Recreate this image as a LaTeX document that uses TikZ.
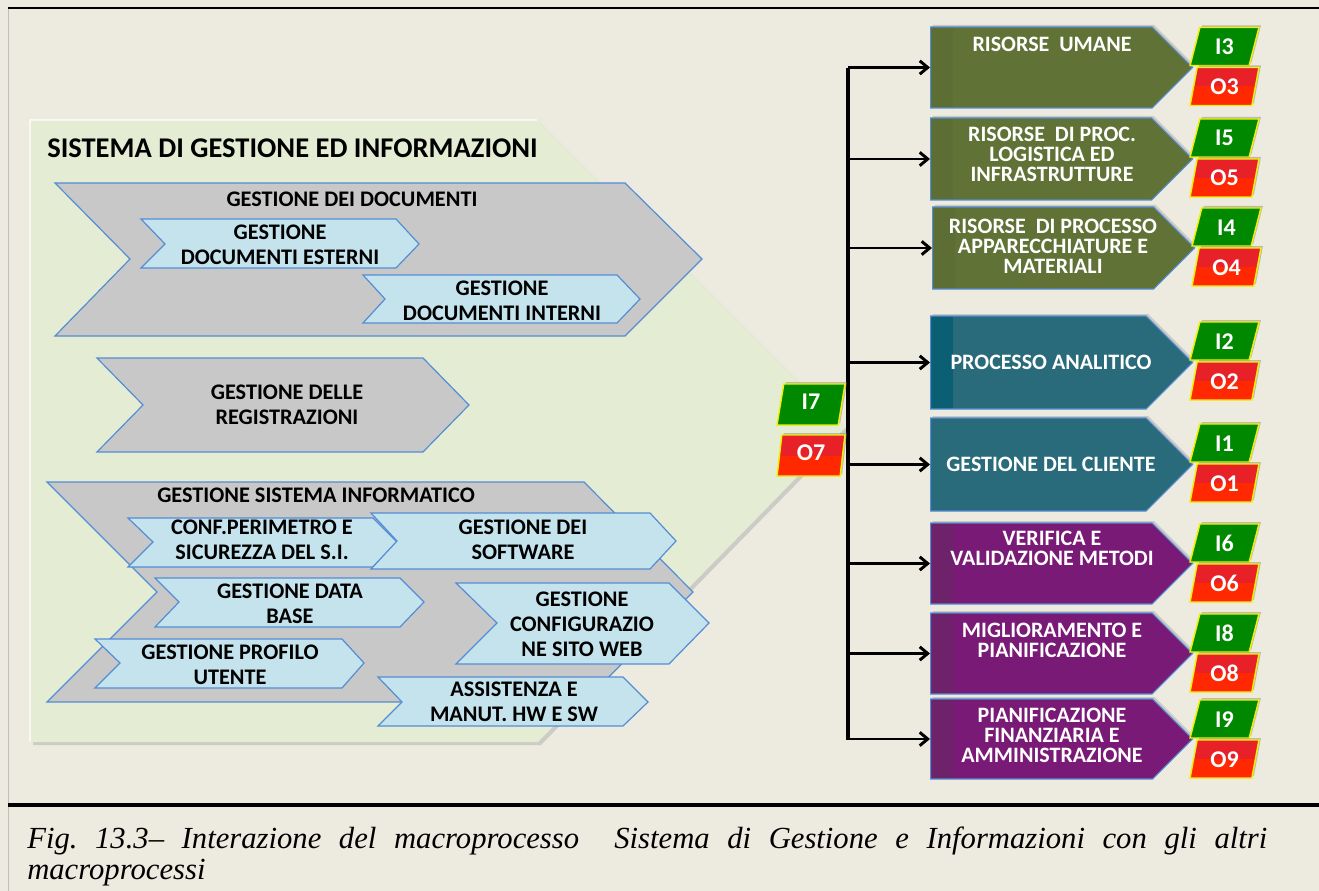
\documentclass[tikz,border=0pt]{standalone}
\usepackage{fontspec}
\setmainfont{Carlito}
\newfontfamily\capfont{Liberation Serif}
\usetikzlibrary{arrows.meta,shapes.symbols,shapes.geometric,shadows}

\definecolor{pagebg}{RGB}{237,234,224}
\definecolor{sgifill}{RGB}{228,237,211}
\definecolor{chevgray}{RGB}{200,200,200}
\definecolor{chevblue}{RGB}{197,227,237}
\definecolor{edgeblue}{RGB}{84,141,212}
\definecolor{risolive}{RGB}{96,114,54}
\definecolor{olivestrip}{RGB}{93,110,52}
\definecolor{procteal}{RGB}{41,107,122}
\definecolor{tealstrip}{RGB}{10,96,114}
\definecolor{verpurple}{RGB}{122,26,119}
\definecolor{purplestrip}{RGB}{110,34,106}
\definecolor{taggreen}{RGB}{0,136,0}
\definecolor{tagred}{RGB}{255,40,0}
\definecolor{tagredtop}{RGB}{232,32,40}
\definecolor{tagedge}{RGB}{240,240,0}

\begin{document}
\begin{tikzpicture}[x=0.75pt,y=0.75pt,yscale=-1,xscale=1,
  chevgrey/.style={draw=edgeblue,fill=chevgray,line width=0.9pt},
  chevlight/.style={draw=edgeblue,fill=chevblue,line width=0.9pt},
  chevtext/.style={font=\bfseries\fontsize{16.7}{18.75}\selectfont,align=center,inner sep=0pt},
  rbox/.style={shape=signal,signal to=east,signal pointer angle=90,draw=edgeblue,line width=0.8pt,
    fill=#1,minimum width=196.5pt,minimum height=60.75pt,inner sep=0pt,anchor=west,
    drop shadow={opacity=.3,shadow xshift=1.5pt,shadow yshift=1.5pt}},
  strip/.style={path picture={\fill[#1] (path picture bounding box.south west) rectangle ([xshift=16.5pt]path picture bounding box.north west);}},
  rtext/.style={font=\bfseries\fontsize{16.5}{15}\selectfont,text=white,align=center,inner sep=0pt},
  tagbase/.style={trapezium,trapezium left angle=77,trapezium right angle=103,trapezium stretches=true,
    minimum width=51.75pt,minimum height=28.5pt,inner sep=0pt,draw=tagedge,line width=1.1pt,
    text=white,font=\bfseries\fontsize{18}{18}\selectfont,text height=1.2em,text depth=0pt,
    drop shadow={opacity=.45,shadow xshift=1.5pt,shadow yshift=1.5pt}},
  itag/.style={tagbase,fill=taggreen},
  otag/.style={tagbase,fill=tagred,path picture={\fill[tagredtop] (path picture bounding box.north west) rectangle (path picture bounding box.east);}},
  bus/.style={line width=2.6pt},
  feed/.style={line width=2.2pt,-{Straight Barb[length=6pt,width=10pt]}}]

\useasboundingbox (0,0) rectangle (1319,891);
\fill[pagebg] (0,0) rectangle (1319,891);

%Page rules
\draw[black!25,line width=0.75pt] (8,8) -- (8,891);
\draw[line width=2.2pt] (8,8) -- (1319,8);
\draw[line width=2.6pt] (8,805) -- (1319,805);

%Shape: Pentagon [sistema] shadow + body
\fill[black!35,opacity=.45] (33,123) -- (540,123) -- (848,431) -- (541,745) -- (33,745) -- cycle;
\fill[sgifill] (30,120) -- (537,120) -- (845,428) -- (538,742) -- (30,742) -- cycle;
\draw[white,line width=1.2pt,opacity=.7] (30,742) -- (30,120) -- (537,120);

% Text Node
\draw (47,148) node [anchor=west,inner sep=0pt,font=\bfseries\fontsize{21.4}{25}\selectfont] (sgi) {SISTEMA DI GESTIONE ED INFORMAZIONI};

%Shape: Chevron [documenti]
\draw[chevgrey] (55,183) -- (625,183) -- (702,259) -- (625,336) -- (55,336) -- (130,259) -- cycle;
\draw[chevlight] (141,219) -- (396,219) -- (419,244) -- (396,268) -- (141,268) -- (165,244) -- cycle;
\draw[chevlight] (363,275) -- (617,275) -- (640,299) -- (617,323) -- (363,323) -- (385,299) -- cycle;
% Text Node
\draw (352,199) node [chevtext] (gdd) {GESTIONE DEI DOCUMENTI};
\draw (280,244.5) node [chevtext] (gde) {GESTIONE\\DOCUMENTI ESTERNI};
\draw (502,300.5) node [chevtext] (gdi) {GESTIONE\\DOCUMENTI INTERNI};

%Shape: Chevron [registrazioni]
\draw[chevgrey] (97,358) -- (423,358) -- (469,405) -- (423,452) -- (97,452) -- (143,405) -- cycle;
% Text Node
\draw (287,405) node [chevtext] (gdr) {GESTIONE DELLE\\REGISTRAZIONI};

%Shape: Chevron [sistema informatico]
\draw[chevgrey] (47,482) -- (584,482) -- (693,592) -- (584,702) -- (47,702) -- (157,592) -- cycle;
\draw[chevlight] (128,518) -- (373,518) -- (397,542) -- (373,567) -- (128,567) -- (153,542) -- cycle;
\draw[chevlight] (371,513) -- (650,513) -- (676,541) -- (650,569) -- (371,569) -- (397,541) -- cycle;
\draw[chevlight] (155,578) -- (400,578) -- (424,602) -- (400,627) -- (155,627) -- (179,602) -- cycle;
\draw[chevlight] (456,583) -- (669,583) -- (709,623) -- (669,664) -- (456,664) -- (497,623) -- cycle;
\draw[chevlight] (95,639) -- (342,639) -- (364,663) -- (342,688) -- (95,688) -- (120,663) -- cycle;
\draw[chevlight] (378,677) -- (623,677) -- (648,702) -- (623,726) -- (378,726) -- (402,702) -- cycle;
% Text Node
\draw (316,495) node [chevtext] (gsi) {GESTIONE SISTEMA INFORMATICO};
\draw (262,540) node [chevtext] (conf) {CONF.PERIMETRO E\\SICUREZZA DEL S.I.};
\draw (523,540) node [chevtext] (soft) {GESTIONE DEI\\SOFTWARE};
\draw (290,603.5) node [chevtext] (db) {GESTIONE DATA\\BASE};
\draw (582,624) node [chevtext] (web) {GESTIONE\\CONFIGURAZIO\\NE SITO WEB};
\draw (230,664.5) node [chevtext] (prof) {GESTIONE PROFILO\\UTENTE};
\draw (514,702) node [chevtext] (ass) {ASSISTENZA E\\MANUT. HW E SW};

%Macroprocessi
\node [rbox=risolive,strip=olivestrip] (ru) at (930,67.5) {};
\node [rbox=risolive,strip=olivestrip,minimum height=61.5pt] (rpl) at (930,159) {};
\node [rbox=risolive,strip=olivestrip,minimum height=61.5pt] (rpa) at (932,248) {};
\node [rbox=procteal,strip=tealstrip,minimum height=69.75pt] (pa) at (930,362.5) {};
\node [rbox=procteal,minimum height=69.75pt] (gc) at (930,464.5) {};
\node [rbox=verpurple,strip=purplestrip] (vv) at (930,563.5) {};
\node [rbox=verpurple,strip=purplestrip] (mp) at (930,653.5) {};
\node [rbox=verpurple,strip=purplestrip,minimum height=60pt] (pf) at (930,739) {};

% Text Node
\draw (1052,44) node [rtext] (ru-t) {RISORSE\ \ UMANE};
\draw (1052,154) node [rtext] (rpl-t) {RISORSE\ \ DI PROC.\\LOGISTICA ED\\INFRASTRUTTURE};
\draw (1053,246) node [rtext] (rpa-t) {RISORSE\ \ DI PROCESSO\\APPARECCHIATURE E\\MATERIALI};
\draw (1051,362) node [rtext] (pa-t) {PROCESSO ANALITICO};
\draw (1051,464) node [rtext] (gc-t) {GESTIONE DEL CLIENTE};
\draw (1052,548.5) node [rtext] (vv-t) {VERIFICA E\\VALIDAZIONE METODI};
\draw (1052,640.5) node [rtext] (mp-t) {MIGLIORAMENTO E\\PIANIFICAZIONE};
\draw (1052,735) node [rtext] (pf-t) {PIANIFICAZIONE\\FINANZIARIA E\\AMMINISTRAZIONE};

%Bus and arrows
\coordinate (bustop) at (848,68);
\coordinate (busbot) at (848,740);
\draw[bus] (bustop) -- (busbot);
\draw[feed] (ru.west -| bustop) -- (ru.west);
\draw[feed] (rpl.west -| bustop) -- (rpl.west);
\draw[feed] (rpa.west -| bustop) -- (rpa.west);
\draw[feed] (pa.west -| bustop) -- (pa.west);
\draw[feed] (gc.west -| bustop) -- (gc.west);
\draw[feed] (vv.west -| bustop) -- (vv.west);
\draw[feed] (mp.west -| bustop) -- (mp.west);
\draw[feed] (pf.west -| bustop) -- (pf.west);

%Input / output tags
\node [itag,minimum width=51pt,minimum height=30.75pt,text height=0.75em] (i7) at (811,404.5) {I7};
\node [otag,minimum width=51pt,minimum height=30.75pt,text height=0.75em] (o7) at (811,455.5) {O7};
\node [itag] (i3) at (1224.5,46.5) {I3};
\node [otag] (o3) at (1224.5,86.5) {O3};
\node [itag] (i5) at (1224.5,138) {I5};
\node [otag] (o5) at (1224.5,178) {O5};
\node [itag] (i4) at (1226.5,227) {I4};
\node [otag] (o4) at (1226.5,267) {O4};
\node [itag] (i2) at (1224.5,341) {I2};
\node [otag] (o2) at (1224.5,381) {O2};
\node [itag] (i1) at (1224.5,443) {I1};
\node [otag] (o1) at (1224.5,483) {O1};
\node [itag] (i6) at (1224.5,543) {I6};
\node [otag] (o6) at (1224.5,583) {O6};
\node [itag] (i8) at (1224.5,633) {I8};
\node [otag] (o8) at (1224.5,673) {O8};
\node [itag] (i9) at (1224.5,719) {I9};
\node [otag] (o9) at (1224.5,759) {O9};

% Caption
\draw (27,848) node [anchor=base west,inner sep=0pt,text width=930pt,align=justify,
  font=\capfont\itshape\fontsize{23}{23.25}\selectfont\frenchspacing] (cap)
  {Fig. 13.3– Interazione del macroprocesso\ \ Sistema di Gestione e Informazioni con gli altri\linebreak macroprocessi};

\end{tikzpicture}
\end{document}
